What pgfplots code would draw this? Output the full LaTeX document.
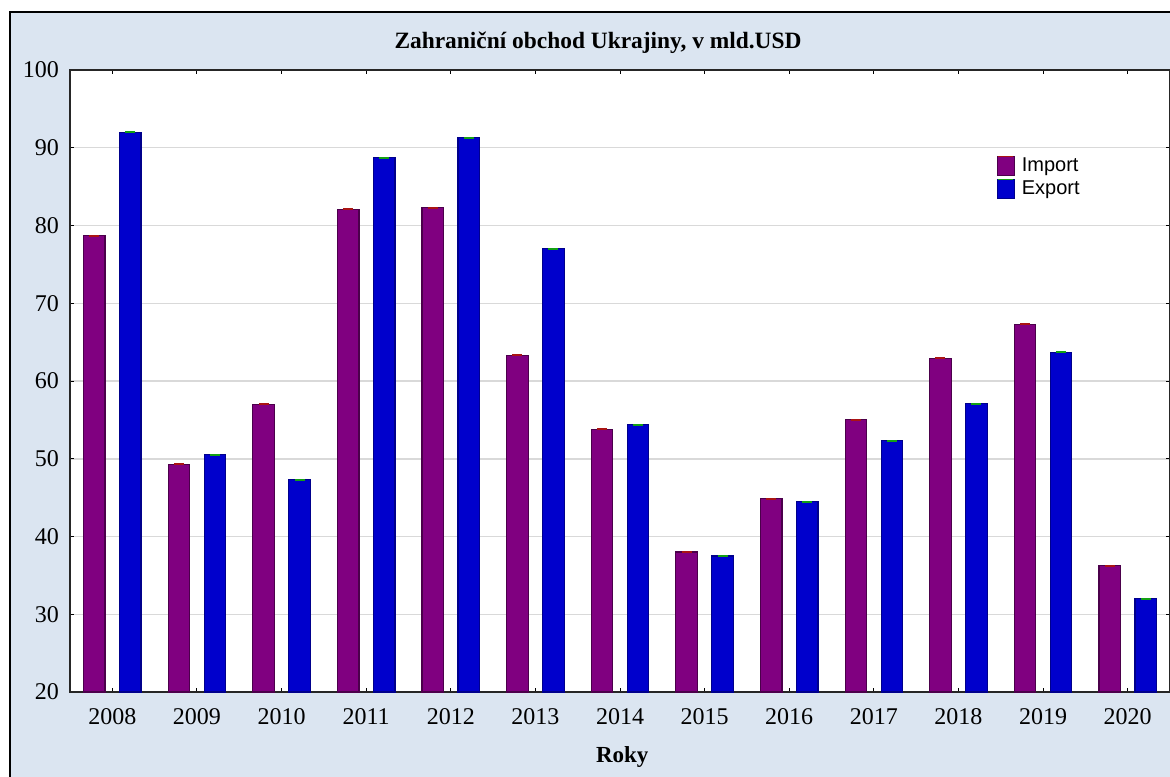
\documentclass[border=0pt]{standalone}
\usepackage{pgfplots}
\pgfplotsset{compat=1.18}
\usepackage{pgfplotstable}
\usepackage{fontspec}
\setmainfont{Liberation Serif}
\newfontfamily\arialfont{Liberation Sans}
\definecolor{bgblue}{RGB}{219,229,241}
\definecolor{impfill}{RGB}{128,0,128}
\definecolor{impdraw}{RGB}{75,0,75}
\definecolor{expfill}{RGB}{0,0,204}
\definecolor{expdraw}{RGB}{0,0,140}
\definecolor{capred}{RGB}{170,20,20}
\definecolor{capgreen}{RGB}{20,160,20}
\definecolor{gridgray}{RGB}{217,217,217}

\pgfplotstableread{
x imp exp
0 78.7 92.0
1 49.3 50.5
2 57.0 47.3
3 82.1 88.7
4 82.3 91.3
5 63.3 77.0
6 53.8 54.4
7 38.0 37.5
8 44.85 44.5
9 55.0 52.3
10 62.9 57.1
11 67.3 63.7
12 36.25 32.0
}\data

\begin{document}
\begin{tikzpicture}
\clip (-35pt,-42pt) rectangle (550pt,346pt);
\fill[bgblue] (-30pt,-50pt) rectangle (560pt,340pt);
\draw[black, line width=1pt] (-30pt,-50pt) -- (-30pt,340pt) -- (560pt,340pt);
\begin{axis}[
  at={(0,0)}, anchor=south west,
  scale only axis, width=550pt, height=311pt,
  xmin=-0.5, xmax=12.5, ymin=20, ymax=100,
  xtick={0,1,...,12},
  xticklabels={2008,2009,2010,2011,2012,2013,2014,2015,2016,2017,2018,2019,2020},
  ytick={20,30,...,100},
  tick align=inside, major tick length=2pt,
  ymajorgrids, grid style={gridgray, line width=0.75pt},
  axis line style={line width=0.75pt, black!85},
  axis background/.style={fill=white},
  tick style={black, line width=0.5pt},
  ticklabel style={font=\fontsize{12}{14}\selectfont},
  /pgf/number format/assume math mode=true,
  xticklabel style={yshift=-4.5pt},
  yticklabel style={xshift=-2pt},
  xlabel={\textbf{Roky}},
  xlabel style={font=\fontsize{11.5}{13}\selectfont, at={(rel axis cs:0.502,0)}, anchor=center, yshift=-32.5pt},
  legend style={at={(rel axis cs:0.842,0.866)}, anchor=north west, draw=none, fill=none,
    font=\arialfont\fontsize{10}{12}\selectfont, row sep=-1pt, inner sep=0pt},
  legend cell align=left,
]
\addplot[ybar, bar width=10.75pt, bar shift=-9pt, fill=impfill, draw=impdraw, line width=0.6pt,
  legend image code/.code={\draw[fill=impfill, draw=impdraw, line width=0.6pt] (0pt,-4.75pt) rectangle (8.5pt,4.75pt);
    \draw[capred, line width=0.8pt] (0.4pt,4.75pt) -- (8.1pt,4.75pt);
    \path (10pt,0pt);}]
  table[x=x, y=imp] {\data};
\addlegendentry{Import}
\addplot[ybar, bar width=10.75pt, bar shift=9pt, fill=expfill, draw=expdraw, line width=0.6pt,
  legend image code/.code={\draw[fill=expfill, draw=expdraw, line width=0.6pt] (0pt,-4.75pt) rectangle (8.5pt,4.75pt);
    \draw[capgreen, line width=0.8pt] (0.4pt,4.75pt) -- (8.1pt,4.75pt);
    \path (10pt,0pt);}]
  table[x=x, y=exp] {\data};
\addlegendentry{Export}
\addplot[forget plot, only marks, mark=-, mark size=2.5pt,
  mark options={xshift=-9pt, draw=capred, line width=1pt}]
  table[x=x, y=imp] {\data};
\addplot[forget plot, only marks, mark=-, mark size=2.5pt,
  mark options={xshift=9pt, draw=capgreen, line width=1pt}]
  table[x=x, y=exp] {\data};
\end{axis}
\node[font=\bfseries\fontsize{11.7}{14}\selectfont] at (264pt,324.5pt) {Zahraniční obchod Ukrajiny, v mld.USD};
\end{tikzpicture}
\end{document}
